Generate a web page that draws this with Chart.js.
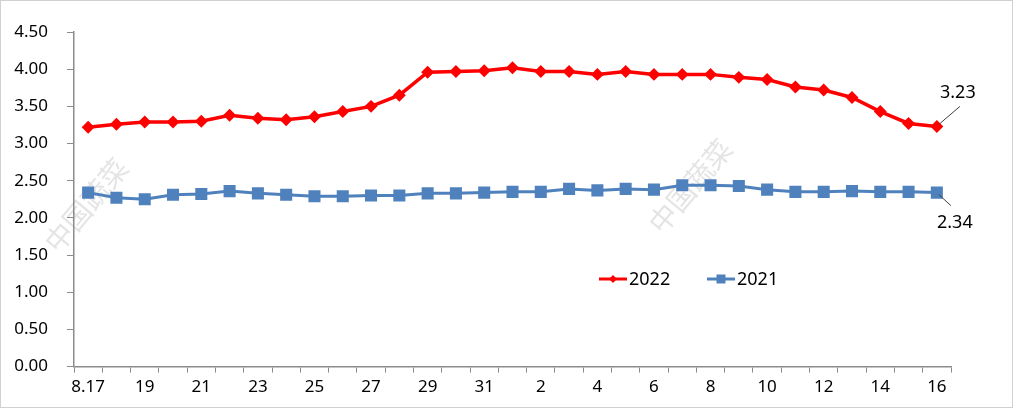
<!DOCTYPE html>
<html><head><meta charset="utf-8">
<script src="https://cdn.jsdelivr.net/npm/chart.js@4.4.0/dist/chart.umd.min.js"></script>
<style>html,body{margin:0;padding:0;background:#fff;}canvas{display:block;}</style>
</head><body>
<canvas id="c" width="1013" height="408"></canvas>
<script>
const categories = ["8.17","18","19","20","21","22","23","24","25","26","27","28","29","30","31","1","2","3","4","5","6","7","8","9","10","11","12","13","14","15","16"];
const series2022 = [3.22,3.26,3.29,3.29,3.30,3.38,3.34,3.32,3.36,3.43,3.50,3.65,3.96,3.97,3.98,4.02,3.97,3.97,3.93,3.97,3.93,3.93,3.93,3.89,3.86,3.76,3.72,3.62,3.43,3.27,3.23];
const series2021 = [2.34,2.27,2.25,2.31,2.32,2.36,2.33,2.31,2.29,2.29,2.30,2.30,2.33,2.33,2.34,2.35,2.35,2.39,2.37,2.39,2.38,2.44,2.44,2.43,2.38,2.35,2.35,2.36,2.35,2.35,2.34];
const yTicks = [0,0.5,1,1.5,2,2.5,3,3.5,4,4.5];
const FONT = "'Noto Sans', 'DejaVu Sans', sans-serif";
const AXIS = "#8c8c8c";

const deco = {
  id: 'deco',
  beforeDraw(chart) {
    const ctx = chart.ctx;
    ctx.save();
    ctx.fillStyle = '#fff';
    ctx.fillRect(0,0,chart.width,chart.height);
    ctx.strokeStyle = '#d0d0d0';
    ctx.lineWidth = 1;
    ctx.strokeRect(0.5,0.5,chart.width-1,chart.height-1);
    ctx.fillStyle = 'rgba(205,205,205,0.55)';
    ctx.font = "28px 'Noto Sans CJK SC', sans-serif";
    [[86,205],[690,186]].forEach(([x,y])=>{
      ctx.save(); ctx.translate(x,y); ctx.rotate(-50*Math.PI/180);
      ctx.textAlign='center'; ctx.textBaseline='middle';
      ctx.fillText('中国蔬菜',0,0); ctx.restore();
    });
    ctx.restore();
  },
  afterDatasetsDraw(chart) {
    const ctx = chart.ctx;
    ctx.save();
    const m0 = chart.getDatasetMeta(0).data; const p0 = m0[m0.length-1];
    const m1 = chart.getDatasetMeta(1).data; const p1 = m1[m1.length-1];
    ctx.strokeStyle = '#404040'; ctx.lineWidth = 1;
    ctx.beginPath(); ctx.moveTo(p0.x+2,p0.y-2); ctx.lineTo(p0.x+23,p0.y-20); ctx.stroke();
    ctx.beginPath(); ctx.moveTo(p1.x+2,p1.y+2); ctx.lineTo(p1.x+14,p1.y+13); ctx.stroke();
    ctx.fillStyle = '#000'; ctx.font = "18px " + FONT;
    ctx.textAlign = 'center'; ctx.textBaseline = 'middle';
    ctx.fillText(series2022[series2022.length-1].toFixed(2), p0.x+21, p0.y-34);
    ctx.fillText(series2021[series2021.length-1].toFixed(2), p1.x+18, p1.y+30);
    const items = chart.data.datasets;
    const lx = [599, 707], ly = 279;
    items.forEach((ds,i)=>{
      const x = lx[i];
      ctx.strokeStyle = ds.borderColor; ctx.lineWidth = 3;
      ctx.beginPath(); ctx.moveTo(x,ly); ctx.lineTo(x+28,ly); ctx.stroke();
      ctx.fillStyle = ds.borderColor;
      if (ds.pointStyle === 'rectRot') {
        ctx.beginPath(); ctx.moveTo(x+14,ly-4); ctx.lineTo(x+18,ly); ctx.lineTo(x+14,ly+4); ctx.lineTo(x+10,ly); ctx.closePath(); ctx.fill();
      } else {
        ctx.fillRect(x+9.5,ly-4.5,9,9);
      }
      ctx.fillStyle = '#000'; ctx.textAlign='left'; ctx.font = "18px " + FONT;
      ctx.fillText(ds.label, x+30, ly+1);
    });
    ctx.restore();
  }
};

new Chart(document.getElementById('c'), {
  type: 'line',
  data: {
    labels: categories,
    datasets: [
      {label:'2022', data: series2022, borderColor:'#ff0000', backgroundColor:'#ff0000', borderWidth:3.5, pointStyle:'rectRot', pointRadius:4, pointHoverRadius:4, tension:0},
      {label:'2021', data: series2021, borderColor:'#4f81bd', backgroundColor:'#4f81bd', borderWidth:3, pointStyle:'rect', pointRadius:6.4, pointHoverRadius:6.4, tension:0}
    ]
  },
  options: {
    responsive:false, animation:false,
    layout:{padding:{top:32,right:62,left:6,bottom:7}},
    plugins:{legend:{display:false}, tooltip:{enabled:false}},
    scales:{
      x:{
        offset:true,
        grid:{display:true, drawOnChartArea:false, offset:true, color:AXIS, tickLength:6},
        border:{color:AXIS, width:1.5},
        ticks:{autoSkip:false, maxRotation:0, color:'#000', font:{size:17, family:FONT}, padding:4,
          callback:function(v,i){ return i%2===0 ? categories[i] : ''; }}
      },
      y:{
        min:0, max:4.5,
        afterBuildTicks(ax){ ax.ticks = yTicks.map(v=>({value:v})); },
        afterFit(ax){ ax.width = 68; },
        grid:{display:true, drawOnChartArea:false, color:AXIS, tickLength:7},
        border:{color:AXIS, width:1.5},
        ticks:{color:'#000', font:{size:17, family:FONT}, padding:19, callback:(v)=>Number(v).toFixed(2)}
      }
    }
  },
  plugins:[deco]
});
</script>
</body></html>
